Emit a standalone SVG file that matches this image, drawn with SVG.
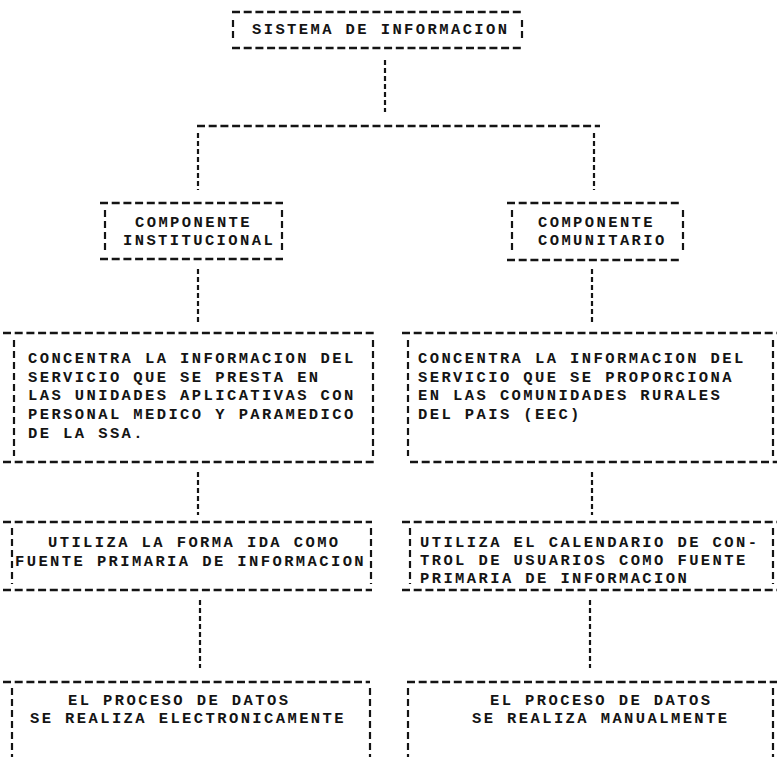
<svg xmlns="http://www.w3.org/2000/svg" width="777" height="757" viewBox="0 0 777 757">
<style>
text{font-family:"Liberation Mono","DejaVu Sans Mono",monospace;font-size:15.5px;letter-spacing:2.4px;font-weight:bold;fill:#141414}
.h{stroke:#141414;stroke-width:2.6;stroke-dasharray:8 3.7;fill:none}
.v{stroke:#141414;stroke-width:2.2;stroke-dasharray:7 4;fill:none}
.c{stroke:#141414;stroke-width:2.2;stroke-dasharray:5 3;fill:none}
</style>
<rect width="777" height="757" fill="#fff"/>
<g id="connectors">
<path class="c" d="M385 60V112"/>
<path class="h" d="M197 126H600"/>
<path class="c" d="M198 133V190"/>
<path class="c" d="M594 133V190"/>
<path class="c" d="M198 269V323"/>
<path class="c" d="M592 269V323"/>
<path class="c" d="M198 472V515"/>
<path class="c" d="M592 472V515"/>
<path class="c" d="M200 600V668"/>
<path class="c" d="M590 600V668"/>
</g>
<g id="sistema">
<path class="h" d="M232 12H523M232 48H523"/>
<path class="v" d="M233 20V40M522 20V40"/>
<text x="252" y="34">SISTEMA DE INFORMACION</text>
</g>
<g id="institucional">
<path class="h" d="M100 203H283M100 259H283"/>
<path class="v" d="M105 210V252M282 210V252"/>
<text x="135" y="227">COMPONENTE</text>
<text x="123" y="245">INSTITUCIONAL</text>
</g>
<g id="comunitario">
<path class="h" d="M507 203H681M507 260H681"/>
<path class="v" d="M512 210V252M683 210V252"/>
<text x="538" y="227">COMPONENTE</text>
<text x="538" y="245">COMUNITARIO</text>
</g>
<g id="concentra-inst">
<path class="h" d="M3 333H374M3 462H376"/>
<path class="v" d="M14 340V456M373 340V456"/>
<text x="28" y="363">CONCENTRA LA INFORMACION DEL</text>
<text x="28" y="382">SERVICIO QUE SE PRESTA EN</text>
<text x="28" y="400">LAS UNIDADES APLICATIVAS CON</text>
<text x="28" y="419">PERSONAL MEDICO Y PARAMEDICO</text>
<text x="28" y="438">DE LA SSA.</text>
</g>
<g id="concentra-com">
<path class="h" d="M402 333H777M410 462H777"/>
<path class="v" d="M408 340V456M773 340V456"/>
<text x="418" y="363">CONCENTRA LA INFORMACION DEL</text>
<text x="418" y="382">SERVICIO QUE SE PROPORCIONA</text>
<text x="418" y="400">EN LAS COMUNIDADES RURALES</text>
<text x="418" y="419">DEL PAIS (EEC)</text>
</g>
<g id="forma-ida">
<path class="h" d="M3 522H372M3 590H372"/>
<path class="v" d="M12 528V584M371 528V584"/>
<text x="48" y="547">UTILIZA LA FORMA IDA COMO</text>
<text x="15" y="566">FUENTE PRIMARIA DE INFORMACION</text>
</g>
<g id="calendario">
<path class="h" d="M402 522H777M402 590H777"/>
<path class="v" d="M410 528V584M773 528V584"/>
<text x="420" y="547">UTILIZA EL CALENDARIO DE CON-</text>
<text x="420" y="565">TROL DE USUARIOS COMO FUENTE</text>
<text x="420" y="583">PRIMARIA DE INFORMACION</text>
</g>
<g id="electronico">
<path class="h" d="M3 682H370"/>
<path class="v" d="M12 688V757M370 688V757"/>
<text x="68" y="705">EL PROCESO DE DATOS</text>
<text x="30" y="723">SE REALIZA ELECTRONICAMENTE</text>
</g>
<g id="manual">
<path class="h" d="M407 682H777"/>
<path class="v" d="M408 688V757M773 688V757"/>
<text x="490" y="705">EL PROCESO DE DATOS</text>
<text x="472" y="723">SE REALIZA MANUALMENTE</text>
</g>
</svg>
